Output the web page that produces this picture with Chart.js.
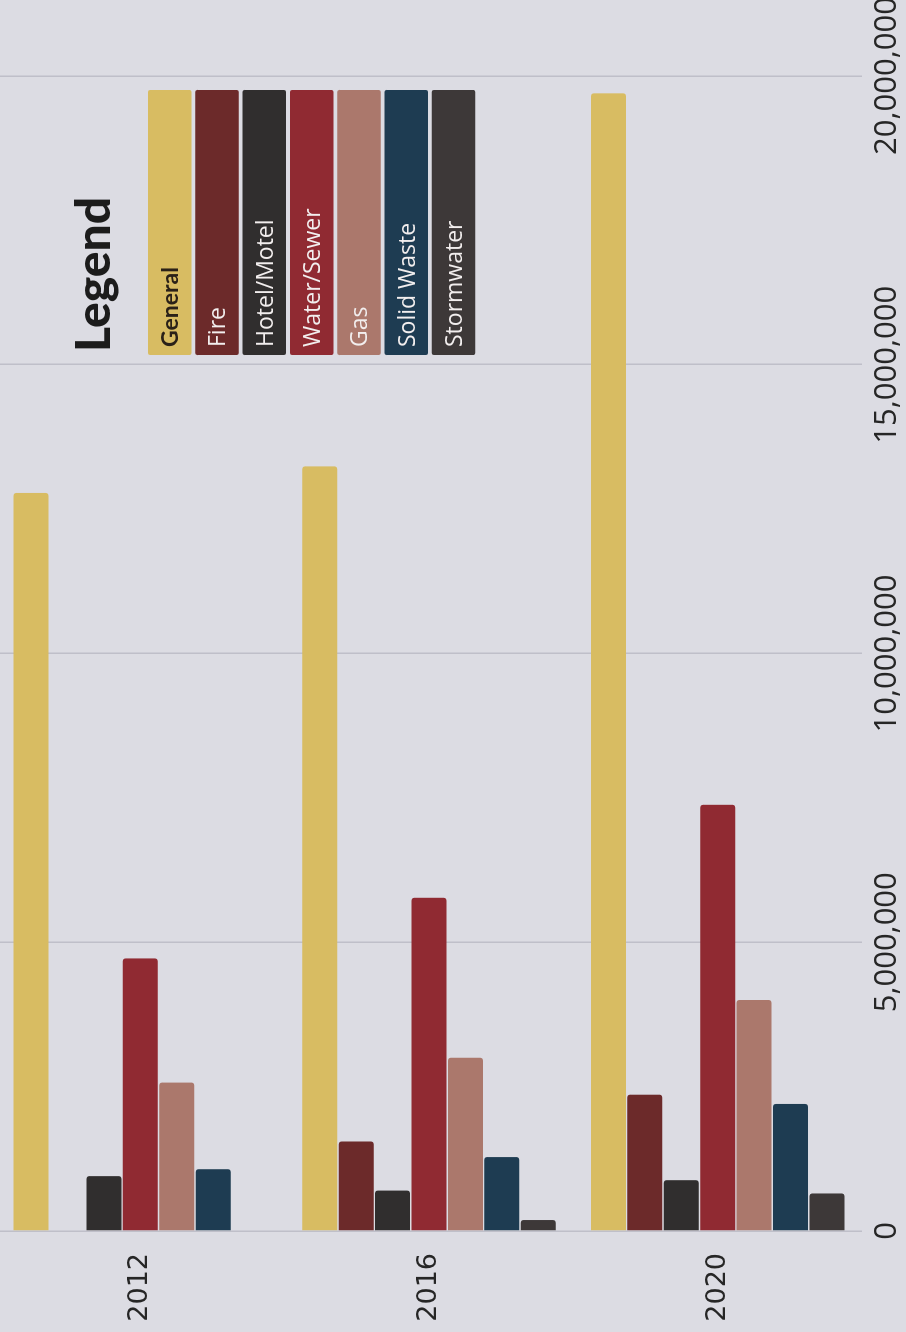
<!DOCTYPE html>
<html>
<head>
<meta charset="utf-8">
<script src="https://cdn.jsdelivr.net/npm/chart.js@4.4.1/dist/chart.umd.min.js"></script>
<style>
html,body{margin:0;padding:0;width:906px;height:1332px;overflow:hidden;background:#dcdce3;}
#wrap{position:absolute;left:0;top:0;width:1332px;height:910px;transform-origin:0 0;transform:translate(-4px,1332px) rotate(-90deg);}
canvas{display:block;}
</style>
</head>
<body>
<div id="wrap"><canvas id="c" width="1332" height="910"></canvas></div>
<script>
// ---- data ----
const categories = ['2012', '2016', '2020'];
const seriesNames = ['General', 'Fire', 'Hotel/Motel', 'Water/Sewer', 'Gas', 'Solid Waste', 'Stormwater'];
const general     = [12780000, 13240000, 19700000];
const fire        = [null,      1550000,  2360000];
const hotelMotel  = [950000,    700000,   880000];
const waterSewer  = [4720000,   5770000,  7380000];
const gas         = [2570000,   3000000,  4000000];
const solidWaste  = [1070000,   1280000,  2200000];
const stormwater  = [null,      190000,   650000];
const valueTicks      = [0, 5000000, 10000000, 15000000, 20000000];
const valueTickLabels = ['0', '5,000,000', '10,000,000', '15,000,000', '20,000,000'];
const legendTitle = 'Legend';

// ---- styles ----
const seriesValues = [general, fire, hotelMotel, waterSewer, gas, solidWaste, stormwater];
const seriesColors = ['#d8bc62', '#6c2a2a', '#302e2e', '#902a32', '#ab786c', '#1e3c52', '#3d3838'];
const legendTextColors = ['#2a2118', '#f2eeee', '#f2eeee', '#f2eeee', '#f2eeee', '#f2eeee', '#f2eeee'];

const datasets = seriesNames.map((name, i) => ({
  label: name,
  data: seriesValues[i],
  backgroundColor: seriesColors[i],
  borderWidth: 0,
  borderRadius: 3,
  borderSkipped: 'start',
  categoryPercentage: 0.883,
  barPercentage: 0.96
}));

const boxLegend = {
  id: 'boxLegend',
  afterDraw(chart) {
    const ctx = chart.ctx;
    ctx.save();
    ctx.fillStyle = '#1c1c1c';
    ctx.font = '900 48px Lato, "Open Sans", sans-serif';
    ctx.textAlign = 'left';
    ctx.textBaseline = 'alphabetic';
    ctx.fillText(legendTitle, 980, 114);
    const left = 977, width = 265, h = 43.5, pitch = 47.3, top0 = 152;
    chart.data.datasets.forEach((ds, i) => {
      const top = top0 + i * pitch;
      ctx.fillStyle = ds.backgroundColor;
      ctx.beginPath();
      if (ctx.roundRect) ctx.roundRect(left, top, width, h, 2); else ctx.rect(left, top, width, h);
      ctx.fill();
      ctx.fillStyle = legendTextColors[i];
      ctx.font = i === 0 ? 'bold 23px Lato, "Open Sans", sans-serif' : '400 23px "Open Sans", sans-serif';
      ctx.fillText(ds.label, left + 8, top + 30);
    });
    ctx.restore();
  }
};

new Chart(document.getElementById('c'), {
  type: 'bar',
  data: { labels: categories, datasets },
  plugins: [boxLegend],
  options: {
    indexAxis: 'y',
    responsive: false,
    animation: false,
    layout: { padding: { left: 0, right: 0, top: 0, bottom: 0 } },
    plugins: { legend: { display: false }, tooltip: { enabled: false } },
    scales: {
      y: {
        type: 'category',
        grid: { display: false, drawTicks: false },
        border: { display: false },
        ticks: {
          color: '#262626',
          font: { family: '"DejaVu Sans", sans-serif', size: 27 },
          padding: 22
        },
        afterFit(scale) { scale.width = 101; scale.paddingTop = 0; scale.paddingBottom = 0; }
      },
      x: {
        type: 'linear',
        min: 0,
        max: 20000000,
        grid: { color: 'rgba(150,150,165,0.42)', lineWidth: 1.5, drawTicks: false },
        border: { display: false },
        afterBuildTicks(scale) { scale.ticks = valueTicks.map(v => ({ value: v })); },
        ticks: {
          color: '#262626',
          font: { family: '"Open Sans", sans-serif', size: 31 },
          padding: 7,
          maxRotation: 0,
          minRotation: 0,
          callback(value) {
            const k = valueTicks.indexOf(value);
            return k >= 0 ? valueTickLabels[k] : '';
          }
        },
        afterFit(scale) { scale.height = 44; scale.paddingLeft = 0; scale.paddingRight = 76; }
      }
    }
  }
});
</script>
</body>
</html>
